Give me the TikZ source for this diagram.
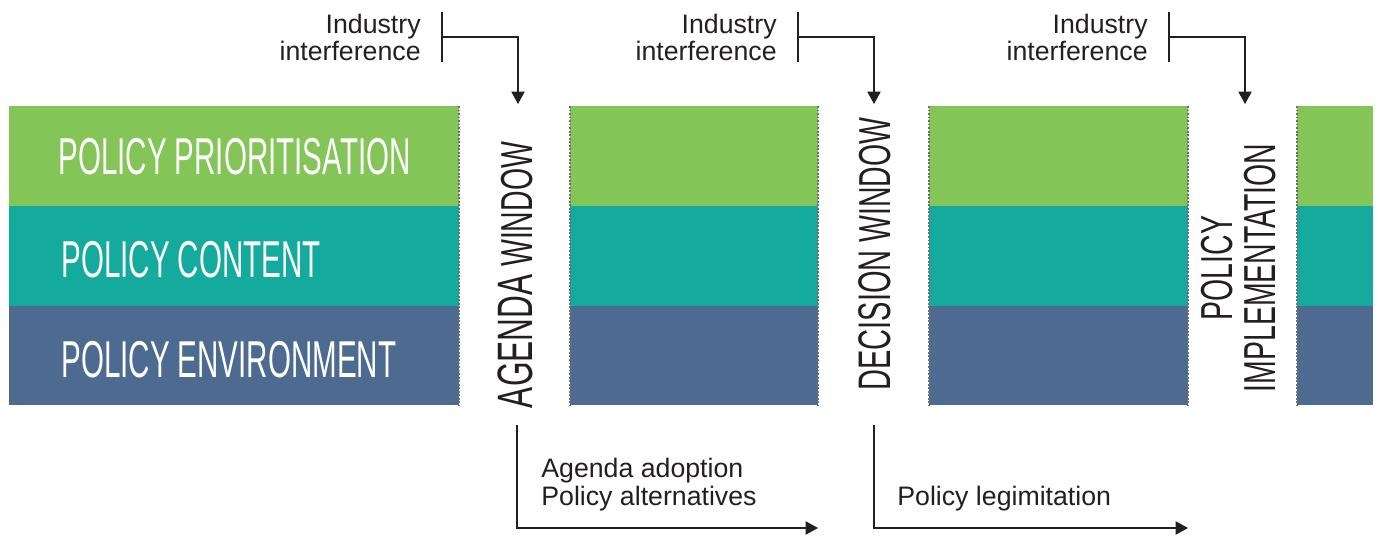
\documentclass[tikz,border=0pt]{standalone}
\usepackage{fontspec}
\setmainfont{Liberation Sans}
\newfontfamily\bandfont[FakeStretch=0.57]{Liberation Sans}
\newfontfamily\winfont[FakeStretch=0.635]{Liberation Sans}
\usetikzlibrary{arrows.meta}
\definecolor{prio}{HTML}{84C557}
\definecolor{content}{HTML}{14AB9E}
\definecolor{environ}{HTML}{4D6A91}
\definecolor{ink}{HTML}{231F20}
\definecolor{seam}{HTML}{6D6E71}
\tikzset{
	bandlabel/.style={anchor=west,inner sep=0pt,text=white,font=\bandfont\fontsize{29.5pt}{32pt}\selectfont},
	winlabel/.style={rotate=90,inner sep=0pt,text=ink,align=center,font=\winfont\fontsize{25.5pt}{24.5pt}\selectfont},
	note/.style={inner sep=0pt,text=ink,font=\fontsize{15.2pt}{15.9pt}\selectfont},
	seamline/.style={seam,line width=0.6pt,dash pattern=on 1.1pt off 0.9pt},
	callout/.style={ink,line width=0.75pt},
	flow/.style={ink,line width=0.75pt,->},
	>={Triangle[length=7pt,width=7.5pt]},
	}

\begin{document}
\begin{tikzpicture}[x=0.02cm,y=-0.02cm]
\useasboundingbox (0,0) rectangle (1378,536);

% the three bands, cut by the windows
\foreach \l/\r in {9/459,570/818,929/1188,1297/1373}{
  \fill[prio] (\l,106) rectangle (\r,206);
  \fill[content] (\l,206) rectangle (\r,306);
  \fill[environ] (\l,306) rectangle (\r,405);
}
\foreach \x in {459,570,818,929,1188,1297}
  \draw[seamline] (\x,106) -- (\x,405);

\node[bandlabel] (prio) at (58,157) {POLICY PRIORITISATION};
\node[bandlabel] (content) at (61,260) {POLICY CONTENT};
\node[bandlabel] (environ) at (61,360) {POLICY ENVIRONMENT};

% windows
\node[winlabel] (agendawin) at (515,275) {{\fontsize{28.3pt}{30pt}\selectfont AGENDA} WINDOW};
\node[winlabel] (decisionwin) at (874.5,254) {{\fontsize{26pt}{28pt}\selectfont DECISION} WINDOW};
\node[winlabel] (implwin) at (1238.5,268) {POLICY\\IMPLEMENTATION};

% industry interference above each window
\foreach \n/\tx/\bx/\ax in {1/421/442/518,2/777/798/874,3/1148/1169/1245}{
  \node[note,align=right,anchor=base east] (ind\n) at (\tx,61) {Industry\\interference};
  \coordinate (bar\n top) at (\bx,12);
  \coordinate (bar\n bot) at (\bx,62);
  \coordinate (bar\n mid) at (\bx,37);
  \coordinate (tip\n) at (\ax,104);
  \draw[callout] (bar\n top) -- (bar\n bot);
  \draw[flow] (bar\n mid) -| (tip\n);
}

% outcomes below the windows
\coordinate (agendafoot) at (517,425);
\coordinate (agendaend) at (818,528);
\coordinate (decisionfoot) at (874,425);
\coordinate (decisionend) at (1188,528);
\draw[flow] (agendafoot) |- (agendaend);
\draw[flow] (decisionfoot) |- (decisionend);
\node[note,align=left,anchor=base west] (adopt) at (541,505) {Agenda adoption\\Policy alternatives};
\node[note,anchor=base west] (legit) at (897,505) {Policy legimitation};
\end{tikzpicture}
\end{document}
